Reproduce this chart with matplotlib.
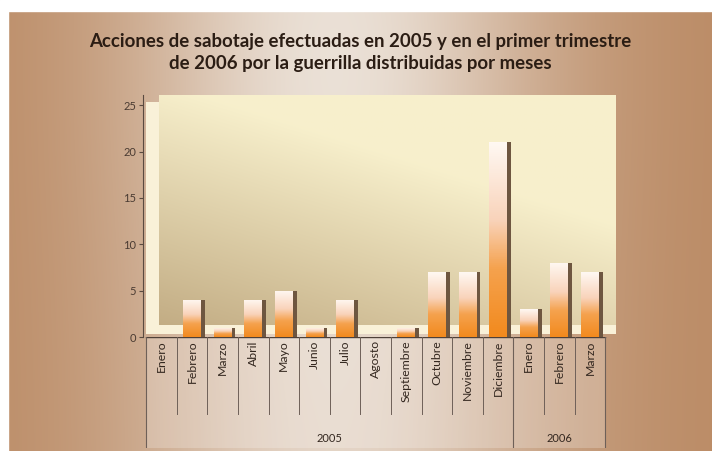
import matplotlib.pyplot as plt
import numpy as np
from matplotlib.colors import LinearSegmentedColormap

# datos: acciones de sabotaje por mes
meses = ['Enero', 'Febrero', 'Marzo', 'Abril', 'Mayo', 'Junio', 'Julio', 'Agosto',
         'Septiembre', 'Octubre', 'Noviembre', 'Diciembre',
         'Enero', 'Febrero', 'Marzo']
acciones = [0, 4, 1, 4, 5, 1, 4, 0, 1, 7, 7, 21, 3, 8, 7]
anios = ['2005', '2006']
meses_por_anio = [12, 3]
ticks_y = [0, 5, 10, 15, 20, 25]

titulo = ('Acciones de sabotaje efectuadas en 2005 y en el primer trimestre\n'
          'de 2006 por la guerrilla distribuidas por meses')

W, H = 712, 451
fig = plt.figure(figsize=(W / 100, H / 100), dpi=100)
fig.patch.set_facecolor('white')

# fondo marron con zona clara en el centro
bg_ax = fig.add_axes([0, 0, 1, 1], zorder=-10)
bg_ax.set_axis_off()
xx = np.linspace(0, 1, W)[None, :]
yy = np.linspace(0, 1, H)[:, None]
luz = np.exp(-((xx - 0.47) / 0.30) ** 2) * (0.85 + 0.15 * np.exp(-((yy - 0.15) / 0.5) ** 2))
borde = np.array([0.73, 0.54, 0.39])
centro = np.array([0.92, 0.88, 0.84])
img = borde[None, None, :] * (1 - luz[..., None]) + centro[None, None, :] * luz[..., None]
bg_ax.imshow(img, extent=[0, W, H, 0], aspect='auto')
bg_ax.add_patch(plt.Rectangle((0, 0), W, 11, color='white'))
bg_ax.add_patch(plt.Rectangle((0, 0), 8, H, color='white'))
bg_ax.set_xlim(0, W)
bg_ax.set_ylim(H, 0)

fig.text(0.506, 0.884, titulo, ha='center', va='center', fontsize=13.4,
         family='Lato', weight='bold', color='#2b1d14', linespacing=1.35)

# ejes principales
left, right = 143 / W, 616 / W
ax = fig.add_axes([left, (H - 337) / H, right - left, 242 / H])
ax.set_facecolor('none')
x = np.arange(len(meses))
xmin, xmax = -0.6, 14.85
ymax = 26.1

# pared del fondo con degradado
u = np.linspace(0, 1, 200)[None, :]
v = np.linspace(1, 0, 200)[:, None]
t = np.clip(0.9 * v + 0.55 * u + 0.05, 0, 1)
oscuro = np.array([0.75, 0.66, 0.50])
claro = np.array([0.97, 0.94, 0.80])
pared = oscuro[None, None, :] * (1 - t[..., None]) + claro[None, None, :] * t[..., None]
ax.imshow(pared, extent=[-0.07, xmax, 1.0, ymax], aspect='auto', zorder=0)

# pared lateral y suelo en crema
ax.fill_between([-0.5, -0.07], 0.5, 25.3, color='#f9f1d8', zorder=1, lw=0)
ax.fill_between([-0.5, xmax], 0.3, 1.25, color='#f9f1d8', zorder=1, lw=0)

# barras con degradado naranja y lado oscuro
ancho = 0.58
lado = 0.13
ax.bar(x + ancho / 2 + lado / 2, acciones, width=lado, color='#6e5640', zorder=3, lw=0)
barras = ax.bar(x, acciones, width=ancho, color='none', zorder=4, lw=0)
cmap_barra = LinearSegmentedColormap.from_list(
    'barra', [(0, '#f28a1e'), (0.35, '#f5a24e'), (0.6, '#f9d3ba'), (1, '#fff8f2')])
grad = np.linspace(0, 1, 100)[:, None]
for b in barras:
    if b.get_height() <= 0:
        continue
    x0, w, h = b.get_x(), b.get_width(), b.get_height()
    im = ax.imshow(grad[::-1], extent=[x0, x0 + w, 0, h], aspect='auto',
                   cmap=cmap_barra, zorder=4)
    im.set_clip_path(b)

ax.set_xlim(xmin, xmax)
ax.set_ylim(0, ymax)
ax.set_xticks([])
ax.set_yticks(ticks_y)
ax.set_yticklabels([str(n) for n in ticks_y], fontsize=8, color='#4a3b32', family='Lato')
ax.tick_params(axis='y', length=3, width=0.8, color='#5a4a40', pad=2)
for s in ['top', 'right', 'bottom']:
    ax.spines[s].set_visible(False)
ax.spines['left'].set_color('#5a4a40')
ax.spines['left'].set_linewidth(0.8)

# tabla de categorias debajo del grafico
tab = fig.add_axes([left, 3 / H, right - left, (H - 337 - 3) / H], sharex=ax)
tab.set_facecolor('none')
tab.set_axis_off()
tab.set_ylim(0, 1)
tab.axvspan(-0.5, len(meses) - 0.5, color='white', alpha=0.22, lw=0)
fila = 0.31
tab.plot([-0.5, len(meses) - 0.5], [1, 1], color='#4e4038', lw=1.0)
for k in range(len(meses) + 1):
    tab.plot([k - 0.5, k - 0.5], [fila, 1], color='#6e6058', lw=0.7)
bordes = np.concatenate([[0], np.cumsum(meses_por_anio)]) - 0.5
for b in bordes:
    tab.plot([b, b], [0, 1], color='#6e6058', lw=0.8)
for i, m in enumerate(meses):
    tab.text(i, 0.97, m, rotation=90, ha='center', va='top', fontsize=8.8,
             family='Lato', color='#33271f')
for a, b0, b1 in zip(anios, bordes[:-1], bordes[1:]):
    tab.text((b0 + b1) / 2, 0.09, a, ha='center', va='center', fontsize=8,
             family='Lato', color='#33271f')
tab.set_xlim(xmin, xmax)

fig.savefig('out.png', dpi=100)
